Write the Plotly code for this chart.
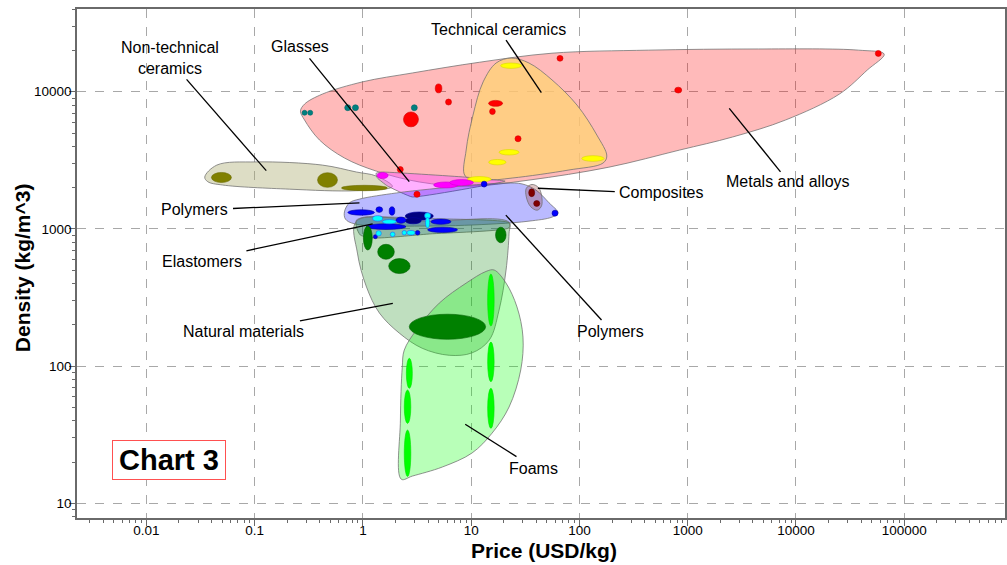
import numpy as np
import plotly.graph_objects as go

# ---------------- axis ticks ----------------
x_tickvals = [0.01, 0.1, 1, 10, 100, 1000, 10000, 100000]
x_ticktext = ["0.01", "0.1", "1", "10", "100", "1000", "10000", "100000"]
y_tickvals = [10, 100, 1000, 10000]
y_ticktext = ["10", "100", "1000", "10000"]
x_range_vals = [0.002286, 853000]
y_range_vals = [7.82, 40100]

# ---------------- family envelopes (price USD/kg, density kg/m^3) ----------------
metals_env_price = [65300, 37700, 4510, 437, 55.8, 11.9, 2.86, 0.99, 0.423, 0.289, 0.265, 0.289,
                    0.397, 0.675, 1.33, 3.32, 9.59, 34.2, 187, 844, 2600, 8000, 25200, 45600, 65300]
metals_env_density = [18800, 20100, 20500, 20100, 19100, 16400, 13700, 11800, 9620, 8130, 7230, 6220,
                      4450, 3290, 2640, 2200, 2050, 2270, 2820, 3760, 4680, 6220, 9620, 14400, 18800]

techcer_env_price = [8.81, 8.99, 10.4, 12.9, 17.0, 23.4, 34.2, 55.8, 94.9, 145, 179, 165, 80.0, 23.9, 13.2, 8.81]
techcer_env_density = [2430, 3760, 6760, 11800, 16200, 17600, 16200, 12200, 8000, 4830, 3400, 3020, 2690, 2350, 2270, 2430]

nontech_env_price = [0.0346, 0.0447, 0.104, 0.423, 0.871, 1.33, 1.87, 0.871, 0.210, 0.0507, 0.0369, 0.0346]
nontech_env_density = [2390, 2920, 3080, 2920, 2600, 2430, 2040, 1900, 1950, 2090, 2210, 2390]

glass_env_price = [1.32, 1.48, 8.62, 20.6, 2.86, 1.68, 1.36, 1.32]
glass_env_density = [2540, 2600, 2390, 2230, 1710, 2060, 2350, 2540]

polymer_env_price = [0.675, 0.751, 0.929, 2.04, 4.10, 10.2, 21.0, 29.5, 39.7, 52.4, 63.4, 55.8, 34.2,
                     17.0, 4.10, 0.835, 0.690, 0.675]
polymer_env_density = [1330, 1550, 1650, 1830, 1950, 2090, 2160, 2130, 1920, 1550, 1310, 1220, 1140,
                       1090, 1050, 1090, 1180, 1330]

elast_env_price = [0.871, 1.03, 4.10, 22.4, 22.4, 4.10, 1.28, 0.948, 0.871, 0.871]
elast_env_density = [1160, 1220, 1190, 1110, 1020, 919, 859, 902, 1030, 1160]

natural_env_price = [0.871, 0.890, 1.08, 1.42, 2.17, 3.53, 6.27, 10.2, 14.7, 18.1, 21.0, 22.4, 22.4, 4.10, 0.871]
natural_env_density = [1140, 667, 377, 244, 174, 135, 120, 125, 155, 256, 501, 933, 1120, 1140, 1140]

foam_env_price = [2.26, 2.22, 2.31, 2.41, 3.11, 5.07, 8.99, 13.7, 16.3, 21.0, 26.5, 30.1, 28.7, 22.4,
                  15.6, 10.2, 5.41, 2.86, 2.26]
foam_env_density = [15.0, 40.5, 98.4, 131, 183, 288, 403, 490, 502, 403, 270, 163, 93.8, 50.4,
                    32.5, 23.3, 18.4, 15.8, 15.0]

comp_env_price = [32.3, 36.5, 42.4, 44.9, 40.8, 35.5, 32.3, 32.3]
comp_env_density = [1980, 2110, 1980, 1490, 1370, 1450, 1710, 1980]

# ---------------- materials: price range and density range ----------------
metals_price_lo = [2.37, 4.66, 5.80, 62.1, 759, 54100, 14.5, 14.8, 25.4, 2.08, 2.96]
metals_price_hi = [3.26, 5.36, 6.58, 70.5, 881, 61400, 19.5, 16.7, 28.9, 2.36, 3.37]
metals_dens_lo = [5550, 9820, 8000, 16700, 9790, 18100, 7830, 6820, 4320, 2580, 1700]
metals_dens_hi = [7130, 11400, 8850, 18400, 10800, 20000, 8650, 7550, 4780, 2850, 1880]

teal_price_lo = [0.274, 0.309, 0.679, 0.80, 2.80]
teal_price_hi = [0.305, 0.344, 0.772, 0.91, 3.18]
teal_dens_lo = [6740, 6740, 7280, 7280, 7280]
teal_dens_hi = [7330, 7330, 8040, 8040, 8040]

techcer_price_lo = [18.7, 18.1, 14.5, 105, 9.19]
techcer_price_hi = [29.2, 27.7, 21.0, 169, 15.3]
techcer_dens_lo = [14800, 3460, 2930, 3110, 2200]
techcer_dens_hi = [16200, 3790, 3210, 3420, 2410]

nontech_price_lo = [0.0399, 0.381, 0.634]
nontech_price_hi = [0.0610, 0.582, 1.68]
nontech_dens_lo = [2180, 2010, 1900]
nontech_dens_hi = [2580, 2570, 2080]

glass_price_lo = [1.355, 4.50, 6.34]
glass_price_hi = [1.71, 7.59, 10.5]
glass_dens_lo = [2330, 1990, 2070]
glass_dens_hi = [2580, 2200, 2290]

polymer_price_lo = [12.4, 55.8, 0.726, 1.32, 1.75, 2.46, 2.46, 2.02, 4.25, 1.07, 3.96, 1.25, 3.05]
polymer_price_hi = [14.0, 63.4, 1.28, 1.52, 1.97, 4.47, 3.46, 2.50, 6.50, 2.50, 7.48, 1.36, 3.36]
polymer_dens_lo = [2020, 1240, 1260, 1320, 1260, 1160, 1090, 1100, 1080, 991, 942, 849, 903]
polymer_dens_hi = [2230, 1370, 1380, 1450, 1450, 1330, 1210, 1220, 1180, 1090, 1030, 908, 975]
polymer_colors = ["#0000ff", "#0000ff", "#0000ff", "#0000ff", "#0000ff", "#000080", "#000080",
                  "#0000ff", "#0000ff", "#0000ff", "#0000ff", "#0000ff", "#0000ff"]

elast_price_lo = [1.23, 1.51, 3.71, 3.79, 1.32, 1.79, 2.30, 2.55]
elast_price_hi = [1.52, 2.04, 4.22, 4.13, 1.48, 1.98, 2.53, 3.03]
elast_dens_lo = [1140, 1090, 1190, 1020, 888, 879, 903, 903]
elast_dens_hi = [1250, 1170, 1310, 1210, 972, 949, 975, 975]

natural_price_lo = [2.68, 1.37, 1.73, 1.01, 16.8]
natural_price_hi = [13.6, 1.95, 2.73, 1.22, 21.0]
natural_dens_lo = [157, 601, 473, 702, 793]
natural_dens_hi = [239, 773, 608, 1050, 1030]

foam_price_lo = [14.2, 14.2, 14.2, 2.52, 2.41, 2.41]
foam_price_hi = [16.3, 16.3, 16.3, 2.86, 2.77, 2.77]
foam_dens_lo = [196, 77.0, 35.2, 68.9, 38.2, 15.7]
foam_dens_hi = [469, 150, 68.9, 114, 67.0, 34.2]

comp_price_lo = [34.0, 37.8]
comp_price_hi = [38.6, 43.0]
comp_dens_lo = [1720, 1460]
comp_dens_hi = [1960, 1610]

# ---------------- labels and leader lines ----------------
label_text = ["Non-technical<br>ceramics", "Glasses", "Technical ceramics", "Metals and alloys",
              "Composites", "Polymers", "Elastomers", "Natural materials", "Polymers", "Foams"]
label_price = [0.0165, 0.260, 17.7, 8530, 564, 0.028, 0.0325, 0.0792, 195, 37.3]
label_density = [17600, 21300, 28600, 2210, 1840, 1390, 577, 178, 180, 18.0]
leader_price_start = [0.0235, 0.321, 21.0, 2420, 41.3, 0.0631, 0.0839, 0.262, 20.9, 8.81]
leader_density_start = [12300, 17500, 23800, 7570, 1980, 1410, 693, 214, 1260, 37.7]
leader_price_end = [0.128, 2.68, 44.5, 7200, 212, 0.929, 1.23, 1.89, 160, 26.2]
leader_density_end = [2660, 2210, 9840, 2610, 1870, 1550, 1090, 287, 217, 21.9]

chart_tag = "Chart 3"
chart_tag_price = 0.0161
chart_tag_density = 20.7

FONT = "Liberation Sans, Arial, sans-serif"

fig = go.Figure()

envelopes = [
    (metals_env_price, metals_env_density, "rgba(255,0,0,0.27)", 1.0),
    (techcer_env_price, techcer_env_density, "rgba(255,210,120,0.80)", 1.0),
    (nontech_env_price, nontech_env_density, "rgba(170,170,110,0.40)", 1.0),
    (glass_env_price, glass_env_density, "rgba(255,80,255,0.45)", 0.3),
    (polymer_env_price, polymer_env_density, "rgba(0,0,255,0.27)", 1.0),
    (elast_env_price, elast_env_density, "rgba(60,110,160,0.35)", 0.6),
    (natural_env_price, natural_env_density, "rgba(0,128,0,0.25)", 1.0),
    (foam_env_price, foam_env_density, "rgba(0,255,0,0.28)", 1.0),
    (comp_env_price, comp_env_density, "rgba(150,60,60,0.30)", 1.0),
]
for px_, dy_, fc, sm in envelopes:
    fig.add_trace(go.Scatter(
        x=px_, y=dy_, mode="lines", fill="toself", fillcolor=fc,
        line=dict(color="rgba(110,110,110,0.75)", width=1, shape="spline", smoothing=sm),
        hoverinfo="skip", showlegend=False))

groups = [
    (metals_price_lo, metals_price_hi, metals_dens_lo, metals_dens_hi, ["#ff0000"] * 11, "#d00000"),
    (teal_price_lo, teal_price_hi, teal_dens_lo, teal_dens_hi, ["#008080"] * 5, "#006666"),
    (techcer_price_lo, techcer_price_hi, techcer_dens_lo, techcer_dens_hi, ["#ffff00"] * 5, "#d8d800"),
    (nontech_price_lo, nontech_price_hi, nontech_dens_lo, nontech_dens_hi, ["#808000"] * 3, "#6a6a00"),
    (glass_price_lo, glass_price_hi, glass_dens_lo, glass_dens_hi, ["#ff00ff"] * 3, "#d000d0"),
    (polymer_price_lo, polymer_price_hi, polymer_dens_lo, polymer_dens_hi, polymer_colors, "#0000a0"),
    (elast_price_lo, elast_price_hi, elast_dens_lo, elast_dens_hi, ["#00ffff"] * 8, "#2060ff"),
    (natural_price_lo, natural_price_hi, natural_dens_lo, natural_dens_hi, ["#008000"] * 5, "#006000"),
    (foam_price_lo, foam_price_hi, foam_dens_lo, foam_dens_hi, ["#00ff00"] * 6, "#00e000"),
    (comp_price_lo, comp_price_hi, comp_dens_lo, comp_dens_hi, ["#800000"] * 2, "#600000"),
]
for plo, phi, dlo, dhi, cols, edge in groups:
    for a, b, c, d, col in zip(plo, phi, dlo, dhi, cols):
        fig.add_shape(type="circle", xref="x", yref="y", x0=a, x1=b, y0=c, y1=d,
                      fillcolor=col, line=dict(color=edge, width=0.6), layer="above")

for xs, ys, xe, ye in zip(leader_price_start, leader_density_start, leader_price_end, leader_density_end):
    fig.add_shape(type="line", xref="x", yref="y", x0=xs, y0=ys, x1=xe, y1=ye,
                  line=dict(color="black", width=1.3), layer="above")

for t, xv, yv in zip(label_text, label_price, label_density):
    fig.add_annotation(x=np.log10(xv), y=np.log10(yv), xref="x", yref="y", text=t, showarrow=False,
                       font=dict(family=FONT, size=16, color="black"), xanchor="center", yanchor="middle")

fig.add_annotation(x=np.log10(chart_tag_price), y=np.log10(chart_tag_density), xref="x", yref="y",
                   text="<b>" + chart_tag + "</b>", showarrow=False,
                   font=dict(family=FONT, size=29, color="black"),
                   bordercolor="#ff5050", borderwidth=1, borderpad=2, bgcolor="white",
                   width=108, height=34, xanchor="center", yanchor="middle")

# axis titles
fig.add_annotation(x=0.5034, y=-0.0635, xref="paper", yref="paper", text="<b>Price (USD/kg)</b>",
                   showarrow=False, font=dict(family=FONT, size=21, color="black"),
                   xanchor="center", yanchor="middle")
fig.add_annotation(x=-0.0588, y=0.4917, xref="paper", yref="paper", text="<b>Density (kg/m^3)</b>",
                   showarrow=False, textangle=-90, font=dict(family=FONT, size=21, color="black"),
                   xanchor="center", yanchor="middle")

axis_common = dict(
    type="log", showgrid=True, gridcolor="#a8a8a8", griddash="dash", gridwidth=1,
    showline=True, linecolor="#6a6a6a", linewidth=1.5, mirror=True,
    ticks="outside", ticklen=6, tickcolor="#6a6a6a", tickwidth=1,
    tickfont=dict(family=FONT, size=13.5, color="black"), zeroline=False,
    minor=dict(ticks="outside", ticklen=3, tickcolor="#6a6a6a", dtick="D1", showgrid=False),
)
fig.update_xaxes(range=[np.log10(x_range_vals[0]), np.log10(x_range_vals[1])],
                 tickmode="array", tickvals=x_tickvals, ticktext=x_ticktext,
                 ticklabelstandoff=-7, **axis_common)
fig.update_yaxes(range=[np.log10(y_range_vals[0]), np.log10(y_range_vals[1])],
                 tickmode="array", tickvals=y_tickvals, ticktext=y_ticktext,
                 ticklabelstandoff=-5, **axis_common)

fig.update_layout(
    width=1007, height=565, margin=dict(l=77, r=0, t=9, b=47),
    paper_bgcolor="white", plot_bgcolor="white", showlegend=False,
    font=dict(family=FONT),
)
fig.write_html("out.html")
